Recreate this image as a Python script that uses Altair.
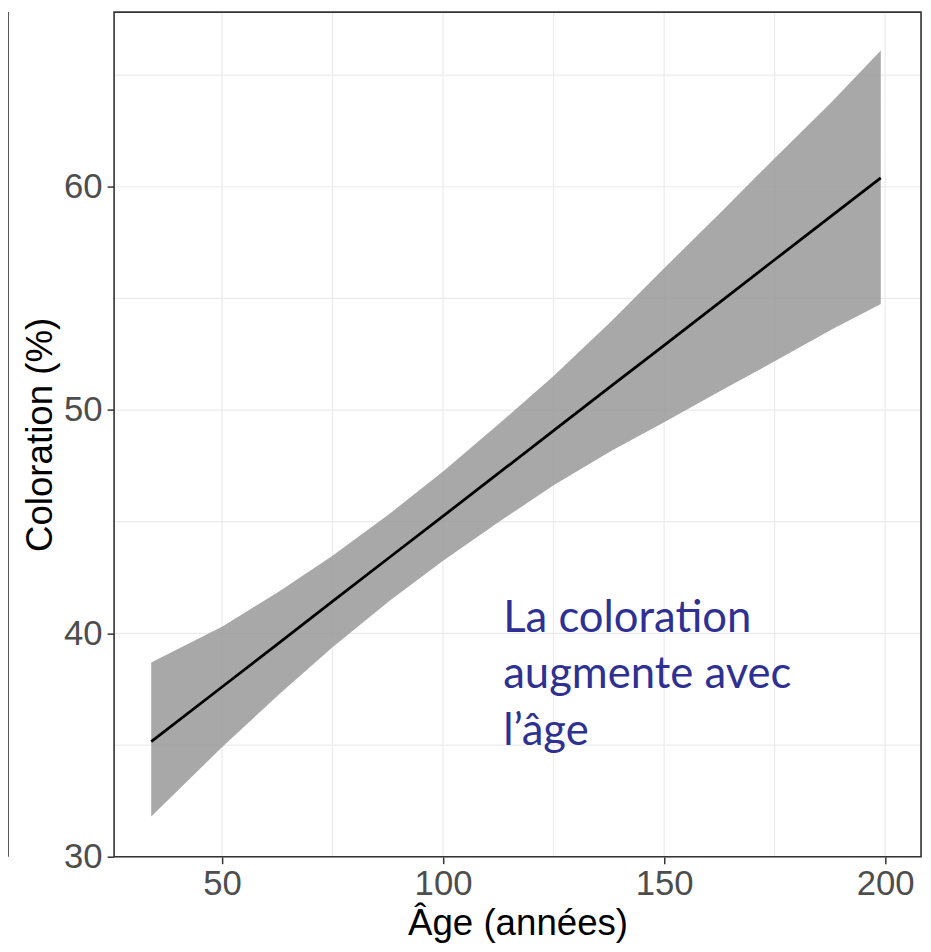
import altair as alt
import pandas as pd

# ---- data ----
age = [34, 50, 63, 75, 88, 100, 113, 125, 138, 150, 163, 175, 188, 199]
fit = [35.15, 37.6, 39.59, 41.43, 43.42, 45.25, 47.24, 49.08, 51.07, 52.9, 54.89, 56.73, 58.72, 60.4]
lower = [31.8, 34.9, 37.29, 39.38, 41.47, 43.25, 45.04, 46.63, 48.17, 49.45, 50.89, 52.18, 53.62, 54.75]
upper = [38.7, 40.3, 41.89, 43.48, 45.37, 47.25, 49.44, 51.53, 53.97, 56.35, 58.89, 61.28, 63.82, 66.1]

x_ticks = [50, 100, 150, 200]
y_ticks = [30, 40, 50, 60]
x_grid = [50, 75, 100, 125, 150, 175, 200]
y_grid = [30, 35, 40, 45, 50, 55, 60, 65]

note_lines = ["La coloration", "augmente avec", "l\u2019\u00e2ge"]
note_x = [113.6]
note_y = [40.07]

df = pd.DataFrame({"age": age, "fit": fit, "lower": lower, "upper": upper})
gx = pd.DataFrame({"v": x_grid})
gy = pd.DataFrame({"v": y_grid})
note = pd.DataFrame({"x": note_x, "y": note_y, "t": [note_lines]})

xs = alt.Scale(domain=[25.6, 208.1], nice=False, zero=False)
ys = alt.Scale(domain=[30, 67.82], nice=False, zero=False)

FONT = "Liberation Sans"

x_axis = alt.Axis(values=x_ticks, grid=False, domain=False, tickSize=7, tickWidth=1.5,
                  tickColor="#333333", labelFontSize=35, labelColor="#4D4D4D",
                  labelFont=FONT, labelPadding=3, title="\u00c2ge (ann\u00e9es)",
                  titleFont=FONT, titleFontSize=37, titleFontWeight="normal",
                  titleColor="#000000", titlePadding=4)
y_axis = alt.Axis(values=y_ticks, grid=False, domain=False, tickSize=7, tickWidth=1.5,
                  tickColor="#333333", labelFontSize=35, labelColor="#4D4D4D",
                  labelFont=FONT, labelPadding=5, title="Coloration (%)",
                  titleFont=FONT, titleFontSize=37, titleFontWeight="normal",
                  titleColor="#000000", titlePadding=4)

gridx = alt.Chart(gx).mark_rule(color="#EBEBEB", strokeWidth=1.2).encode(
    x=alt.X("v:Q", scale=xs, axis=x_axis))
gridy = alt.Chart(gy).mark_rule(color="#EBEBEB", strokeWidth=1.2).encode(
    y=alt.Y("v:Q", scale=ys, axis=y_axis))

band = alt.Chart(df).mark_area(color="#999999", opacity=0.85).encode(
    x=alt.X("age:Q", scale=xs),
    y=alt.Y("lower:Q", scale=ys),
    y2="upper:Q")

line = alt.Chart(df).mark_line(color="#000000", strokeWidth=2.8).encode(
    x=alt.X("age:Q", scale=xs),
    y=alt.Y("fit:Q", scale=ys))

text = alt.Chart(note).mark_text(align="left", baseline="alphabetic", font="Lato",
                                 fontSize=44, lineHeight=57, color="#2E3192").encode(
    x=alt.X("x:Q", scale=xs),
    y=alt.Y("y:Q", scale=ys),
    text="t")

one = pd.DataFrame({"k": [0]})
border = alt.Chart(one).mark_rect(fill=None, stroke="#333333", strokeWidth=1.6).encode(
    x=alt.value(0), x2=alt.value(814), y=alt.value(0), y2=alt.value(852))

edge = alt.Chart(one).mark_rule(color="#444444", strokeWidth=1.8).encode(
    x=alt.value(-107), y=alt.value(0), y2=alt.value(852))

chart = alt.layer(gridx, gridy, band, line, text, border, edge).properties(
    width=814, height=852,
    autosize=alt.AutoSizeParams(type="none"),
    padding={"left": 107, "top": 0, "right": 2, "bottom": 92},
).configure_view(stroke=None).configure(background="white")

chart.save("out.html", embed_options={"renderer": "svg", "actions": False})
